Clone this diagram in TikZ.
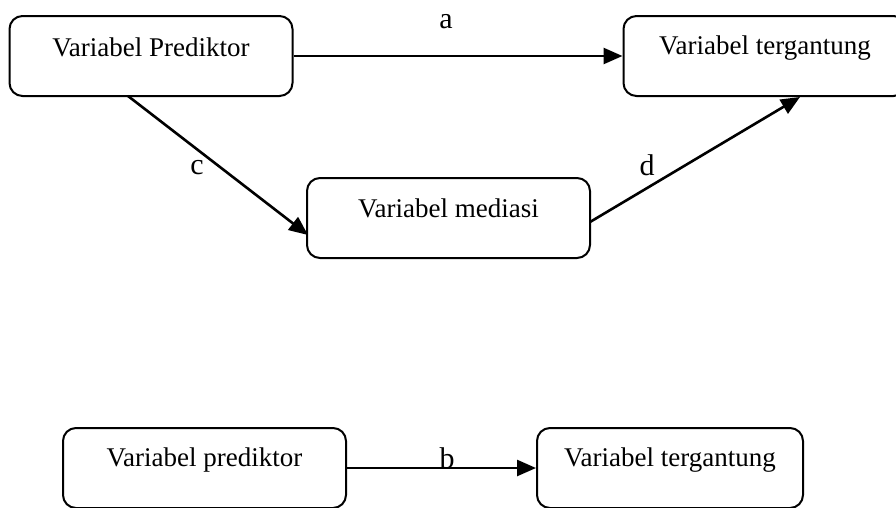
\documentclass[tikz,border=0pt]{standalone}
\usepackage{fontspec}
\setmainfont{Liberation Serif}
\usetikzlibrary{arrows.meta,calc}
\begin{document}
\begin{tikzpicture}[x=1pt,y=-1pt,
  box/.style={draw, line width=2pt, rounded corners=13pt, minimum width=283pt, minimum height=80pt, inner sep=0pt},
  boxtext/.style={font=\fontsize{27}{30}\selectfont, inner sep=0pt},
  lbl/.style={font=\fontsize{30}{34}\selectfont, inner sep=0pt},
  conn/.style={line width=2.6pt, -{Triangle[length=19pt,width=16pt]}}]
\useasboundingbox (0,0) rectangle (896,507);
\node[box] (p1) at (151,56) {};
\node[box] (t1) at (765,56) {};
\node[box] (m1) at (448.5,218) {};
\node[box] (p2) at (204.5,468) {};
\node[box, minimum width=266pt] (t2) at (670,468) {};
\node[boxtext] (p1t) at ($(p1.center)+(0,-9)$) {Variabel Prediktor};
\node[boxtext] (t1t) at ($(t1.center)+(0,-8)$) {Variabel tergantung};
\node[boxtext] (m1t) at ($(m1.center)+(0,-10)$) {Variabel mediasi};
\node[boxtext] (p2t) at ($(p2.center)+(0,-8)$) {Variabel prediktor};
\node[boxtext] (t2t) at ($(t2.center)+(0,-8)$) {Variabel tergantung};
\coordinate (cstart) at (128,96);
\coordinate (cend) at (308,235);
\coordinate (dstart) at (590,222);
\coordinate (dend) at (800,97);
\draw[conn] (p1.east) -- (t1.west);
\draw[conn] (cstart) -- (cend);
\draw[conn] (dstart) -- (dend);
\draw[conn] (p2.east) -- (t2.west);
\node[lbl] (la) at (446,22) {a};
\node[lbl] (lc) at (197,168) {c};
\node[lbl] (ld) at (647,165) {d};
\node[lbl] (lb) at (447,458) {b};
\end{tikzpicture}
\end{document}
